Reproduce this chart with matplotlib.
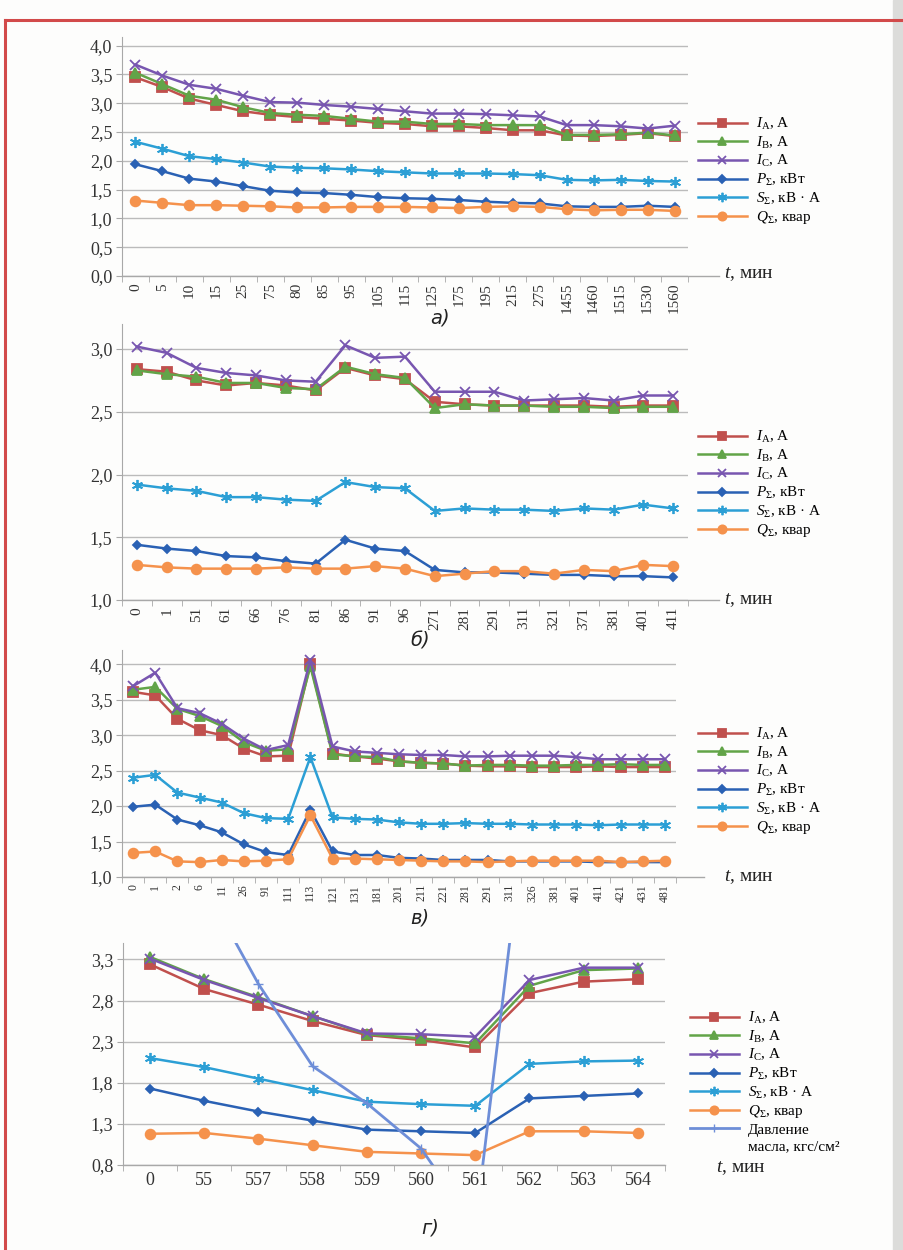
import numpy as np
import matplotlib.pyplot as plt
from matplotlib.lines import Line2D
from matplotlib.patches import Rectangle

plt.rcParams['font.family'] = ['Liberation Serif', 'DejaVu Serif']
plt.rcParams['mathtext.fontset'] = 'custom'
plt.rcParams['mathtext.rm'] = 'Liberation Serif'
plt.rcParams['mathtext.it'] = 'Liberation Serif:italic'
plt.rcParams['mathtext.bf'] = 'Liberation Serif:bold'

# а) currents and powers vs time, min
t_a = ['0', '5', '10', '15', '25', '75', '80', '85', '95', '105', '115', '125',
       '175', '195', '215', '275', '1455', '1460', '1515', '1530', '1560']
IA_a = [3.45, 3.28, 3.08, 2.97, 2.86, 2.80, 2.76, 2.73, 2.70, 2.66, 2.64, 2.60,
        2.60, 2.57, 2.53, 2.53, 2.44, 2.43, 2.45, 2.48, 2.43]
IB_a = [3.53, 3.33, 3.13, 3.06, 2.93, 2.83, 2.80, 2.78, 2.73, 2.68, 2.68, 2.64,
        2.64, 2.62, 2.62, 2.62, 2.45, 2.45, 2.46, 2.49, 2.44]
IC_a = [3.67, 3.48, 3.32, 3.25, 3.13, 3.02, 3.01, 2.97, 2.94, 2.90, 2.86, 2.82,
        2.82, 2.81, 2.79, 2.77, 2.62, 2.62, 2.60, 2.56, 2.61]
P_a = [1.94, 1.82, 1.69, 1.64, 1.56, 1.48, 1.45, 1.44, 1.41, 1.37, 1.35, 1.34,
       1.32, 1.29, 1.27, 1.26, 1.21, 1.20, 1.20, 1.22, 1.20]
S_a = [2.33, 2.21, 2.08, 2.03, 1.97, 1.90, 1.88, 1.87, 1.85, 1.82, 1.80, 1.78,
       1.78, 1.78, 1.77, 1.75, 1.67, 1.66, 1.67, 1.65, 1.64]
Q_a = [1.31, 1.27, 1.23, 1.23, 1.22, 1.21, 1.19, 1.19, 1.20, 1.20, 1.20, 1.19,
       1.18, 1.20, 1.21, 1.20, 1.16, 1.14, 1.15, 1.15, 1.13]

# б)
t_b = ['0', '1', '51', '61', '66', '76', '81', '86', '91', '96', '271', '281',
       '291', '311', '321', '371', '381', '401', '411']
IA_b = [2.84, 2.82, 2.75, 2.71, 2.73, 2.71, 2.67, 2.85, 2.79, 2.76, 2.58, 2.56,
        2.55, 2.55, 2.55, 2.55, 2.54, 2.55, 2.55]
IB_b = [2.83, 2.80, 2.78, 2.73, 2.73, 2.69, 2.68, 2.86, 2.80, 2.77, 2.53, 2.56,
        2.55, 2.55, 2.54, 2.54, 2.53, 2.54, 2.54]
IC_b = [3.02, 2.97, 2.85, 2.81, 2.79, 2.75, 2.74, 3.03, 2.93, 2.94, 2.66, 2.66,
        2.66, 2.59, 2.60, 2.61, 2.59, 2.63, 2.63]
P_b = [1.44, 1.41, 1.39, 1.35, 1.34, 1.31, 1.29, 1.48, 1.41, 1.39, 1.24, 1.22,
       1.22, 1.21, 1.20, 1.20, 1.19, 1.19, 1.18]
S_b = [1.92, 1.89, 1.87, 1.82, 1.82, 1.80, 1.79, 1.94, 1.90, 1.89, 1.71, 1.73,
       1.72, 1.72, 1.71, 1.73, 1.72, 1.76, 1.73]
Q_b = [1.28, 1.26, 1.25, 1.25, 1.25, 1.26, 1.25, 1.25, 1.27, 1.25, 1.19, 1.21,
       1.23, 1.23, 1.21, 1.24, 1.23, 1.28, 1.27]

# в)
t_c = ['0', '1', '2', '6', '11', '26', '91', '111', '113', '121', '131', '181',
       '201', '211', '221', '281', '291', '311', '326', '381', '401', '411',
       '421', '431', '481']
IA_c = [3.61, 3.56, 3.23, 3.07, 3.00, 2.81, 2.70, 2.71, 4.00, 2.74, 2.70, 2.67,
        2.63, 2.61, 2.60, 2.57, 2.56, 2.56, 2.55, 2.55, 2.55, 2.56, 2.55, 2.55, 2.55]
IB_c = [3.64, 3.68, 3.37, 3.27, 3.13, 2.90, 2.78, 2.80, 3.97, 2.73, 2.70, 2.69,
        2.63, 2.61, 2.60, 2.57, 2.58, 2.58, 2.57, 2.57, 2.58, 2.58, 2.59, 2.58, 2.58]
IC_c = [3.69, 3.88, 3.38, 3.31, 3.16, 2.95, 2.79, 2.86, 4.06, 2.84, 2.77, 2.75,
        2.73, 2.72, 2.72, 2.70, 2.70, 2.71, 2.71, 2.71, 2.69, 2.66, 2.66, 2.66, 2.66]
P_c = [1.99, 2.02, 1.81, 1.73, 1.63, 1.46, 1.35, 1.31, 1.95, 1.36, 1.31, 1.31,
       1.27, 1.26, 1.24, 1.24, 1.24, 1.22, 1.22, 1.22, 1.22, 1.21, 1.21, 1.21, 1.21]
S_c = [2.40, 2.44, 2.19, 2.12, 2.05, 1.90, 1.83, 1.82, 2.69, 1.84, 1.82, 1.81,
       1.77, 1.75, 1.75, 1.76, 1.75, 1.75, 1.74, 1.74, 1.74, 1.73, 1.74, 1.74, 1.74]
Q_c = [1.34, 1.36, 1.22, 1.21, 1.24, 1.22, 1.23, 1.25, 1.87, 1.26, 1.26, 1.25,
       1.24, 1.23, 1.22, 1.22, 1.21, 1.22, 1.23, 1.23, 1.23, 1.23, 1.21, 1.22, 1.23]

# г) with oil pressure
t_d = ['0', '55', '557', '558', '559', '560', '561', '562', '563', '564']
IA_d = [3.24, 2.94, 2.75, 2.55, 2.38, 2.32, 2.23, 2.89, 3.03, 3.06]
IB_d = [3.33, 3.06, 2.84, 2.61, 2.39, 2.34, 2.28, 2.98, 3.17, 3.19]
IC_d = [3.31, 3.05, 2.83, 2.61, 2.40, 2.39, 2.36, 3.05, 3.20, 3.20]
P_d = [1.73, 1.58, 1.45, 1.34, 1.23, 1.21, 1.19, 1.61, 1.64, 1.67]
S_d = [2.10, 1.99, 1.85, 1.71, 1.57, 1.54, 1.52, 2.03, 2.06, 2.07]
Q_d = [1.18, 1.19, 1.12, 1.04, 0.96, 0.94, 0.92, 1.21, 1.21, 1.19]
oil_d = [4.6, 4.2, 3.0, 2.0, 1.55, 1.0, 0.05, 5.5, 5.6, 5.6]

labels = [r'$I_{\mathrm{A}}$, А', r'$I_{\mathrm{B}}$, А', r'$I_{\mathrm{C}}$, А',
          r'$P_{\Sigma}$, кВт', r'$S_{\Sigma}$, кВ · А', r'$Q_{\Sigma}$, квар']
oil_label = ['Давление', 'масла, кгс/см²']

colors = ['#C0504D', '#62A448', '#7856B0', '#2A61B4', '#2C9FD5', '#F5924C']
markers = ['s', '^', 'x', 'D', (6, 2, 0), 'o']
msizes = [6.5, 6.5, 7, 4.5, 8, 7]
oil_color = '#6E8ED8'
grid_c = '#BBBBBB'
axis_c = '#A8A8A8'
text_c = '#333333'

W, H = 904, 1250
fig = plt.figure(figsize=(W / 100, H / 100), dpi=100, facecolor='#FDFDFC')


def px_axes(left, top, right, bottom):
    ax = fig.add_axes([left / W, 1 - bottom / H, (right - left) / W, (bottom - top) / H])
    ax.set_facecolor('none')
    return ax


def put_legend(ax, handles, labs, x, y):
    ax.legend(handles, labs, loc='upper left', bbox_to_anchor=(x / W, 1 - y / H),
              bbox_transform=fig.transFigure, frameon=False, fontsize=11,
              handlelength=3.2, handletextpad=0.6, labelspacing=0.17,
              borderpad=0, borderaxespad=0, markerscale=0.85)


def draw_panel(ax, t, series, ylim, yticks, rot, xfs, ext, tlab_xy, sub_xy, sub):
    x = np.arange(len(t))
    lines = []
    for vals, c, m, ms in zip(series, colors, markers, msizes):
        ln, = ax.plot(x, vals, color=c, lw=1.8, marker=m, ms=ms, mew=1.3,
                      mfc=c, mec=c, zorder=3)
        lines.append(ln)
    ax.set_xlim(-0.5, len(t) - 0.5)
    ax.set_ylim(*ylim)
    ax.set_yticks(yticks)
    ax.set_yticklabels([f'{v:.1f}'.replace('.', ',') for v in yticks])
    ax.set_xticks(x)
    ax.set_xticklabels(t, rotation=rot, fontsize=xfs)
    ax.set_xticks(np.arange(-0.5, len(t)), minor=True)
    ax.tick_params(axis='x', which='major', length=0, pad=5, colors=text_c)
    ax.tick_params(axis='x', which='minor', length=4, color=axis_c)
    ax.tick_params(axis='y', length=4, color=axis_c, labelsize=13, labelcolor=text_c, pad=3)
    ax.grid(axis='y', color=grid_c, lw=1)
    ax.set_axisbelow(True)
    for sp in ['top', 'right', 'bottom']:
        ax.spines[sp].set_visible(False)
    ax.spines['left'].set_color(axis_c)
    # category axis runs a little past the plot area
    ax.plot([0, ext], [0, 0], transform=ax.transAxes, color=axis_c, lw=1,
            clip_on=False, zorder=2)
    fig.text(tlab_xy[0] / W, 1 - tlab_xy[1] / H, r'$t$, мин', fontsize=14,
             va='center', ha='left', color='#222222')
    fig.text(sub_xy[0] / W, 1 - sub_xy[1] / H, sub, fontsize=14, style='italic',
             family='DejaVu Sans', va='center', ha='center', color='#222222')
    return lines


ax_a = px_axes(122, 37, 688, 276)
h = draw_panel(ax_a, t_a, [IA_a, IB_a, IC_a, P_a, S_a, Q_a], (0, 4.15),
               np.arange(0, 4.01, 0.5), 90, 11, 1.055, (724, 274), (440, 318), 'а)')
put_legend(ax_a, h, labels, 698, 116)

ax_b = px_axes(122, 324, 688, 600)
h = draw_panel(ax_b, t_b, [IA_b, IB_b, IC_b, P_b, S_b, Q_b], (1.0, 3.2),
               np.arange(1.0, 3.01, 0.5), 90, 11, 1.055, (724, 600), (420, 641), 'б)')
put_legend(ax_b, h, labels, 698, 429)

ax_c = px_axes(122, 650, 676, 877)
h = draw_panel(ax_c, t_c, [IA_c, IB_c, IC_c, P_c, S_c, Q_c], (1.0, 4.2),
               np.arange(1.0, 4.01, 0.5), 90, 8.5, 1.05, (724, 877), (420, 918), 'в)')
put_legend(ax_c, h, labels, 698, 726)

ax_d = px_axes(123, 943, 665, 1165)
h = draw_panel(ax_d, t_d, [IA_d, IB_d, IC_d, P_d, S_d, Q_d], (0.8, 3.5),
               np.arange(0.8, 3.31, 0.5), 0, 13, 1.0, (716, 1168), (430, 1228), 'г)')
oil, = ax_d.plot(np.arange(len(t_d)), oil_d, color=oil_color, lw=2, marker='+',
                 ms=7, mew=1, zorder=4)
# second line of the pressure label goes without a handle
blank = Line2D([], [], color='none')
put_legend(ax_d, h + [oil, blank], labels + oil_label, 690, 1010)

# page frame and gutter
fig.add_artist(Line2D([5 / W, 1], [1 - 20 / H, 1 - 20 / H], color='#D24A4A', lw=2.2,
                      transform=fig.transFigure))
fig.add_artist(Line2D([5 / W, 5 / W], [0, 1 - 20 / H], color='#D24A4A', lw=2.2,
                      transform=fig.transFigure))
fig.add_artist(Rectangle((893 / W, 0), 11 / W, 1, color='#DCDCDA',
                         transform=fig.transFigure, zorder=0))

fig.savefig('out.png', dpi=100, facecolor=fig.get_facecolor())
